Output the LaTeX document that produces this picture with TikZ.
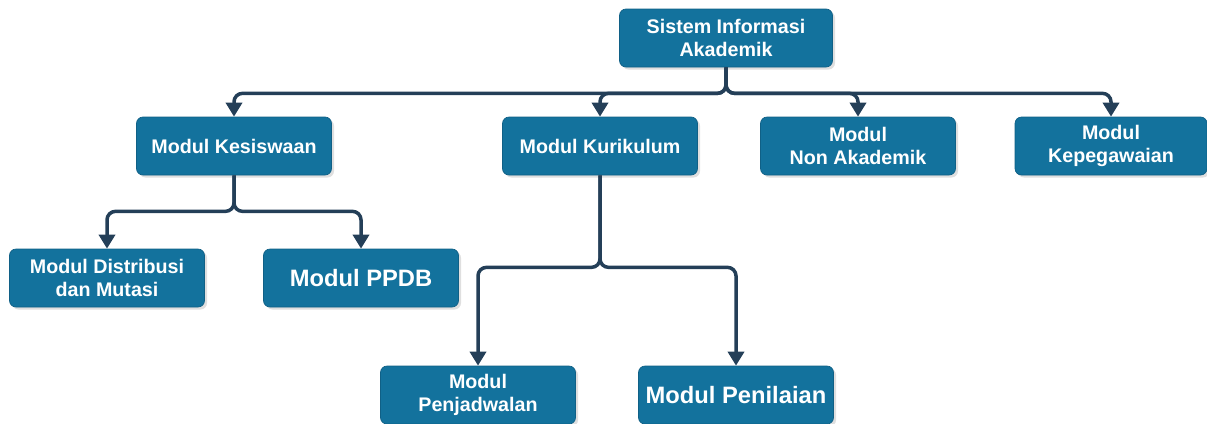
\documentclass[tikz,border=0pt]{standalone}
\usepackage{fontspec}
\setmainfont{Liberation Sans}
\definecolor{siablue} {RGB}{19,114,157}
\definecolor{siadark} {RGB}{16,96,134}
\definecolor{sianavy} {RGB}{36,63,88}
\usetikzlibrary{arrows.meta,positioning,shadows}
\tikzset{
  modul/.style={rectangle,rounded corners=1.3mm,draw=siadark,fill=siablue,
                text=white,minimum height=11.6mm,minimum width=39mm,
                font=\fontsize{11.2}{12.8}\selectfont\bfseries,align=center,
                drop shadow={opacity=0.25,shadow xshift=0.5mm,shadow yshift=-0.5mm}},
  modulbig/.style={modul,font=\fontsize{13.5}{15}\selectfont\bfseries},
  conn/.style={-{Triangle[length=2.8mm,width=3.2mm]},line width=0.7mm,
               draw=sianavy,rounded corners=1.7mm},
}
\begin{document}
\begin{tikzpicture}[x=0.2mm,y=-0.2mm]
    \useasboundingbox (0,0) rectangle (1207,423);
    % root
    \node[modul,minimum width=42.6mm] (sia) at (726,38) {Sistem Informasi\\Akademik};
    % first level
    \node[modul] (kes) at (234,146) {Modul Kesiswaan};
    \node[modul] (kur) at (600,146) {Modul Kurikulum};
    \node[modul] (non) at (858,146) {Modul\\Non Akademik};
    \node[modul,minimum width=38.4mm] (peg) at (1111,146) {Modul\\Kepegawaian};
    % second level
    \node[modul] (dis) at (107,278) {Modul Distribusi\\dan Mutasi};
    \node[modulbig] (ppdb) at (361,278) {Modul PPDB};
    \node[modul] (jad) at (478,395) {Modul\\Penjadwalan};
    \node[modulbig] (nil) at (736,395) {Modul Penilaian};
    % connectors
    \foreach \child in {kes,kur,non,peg}
      \draw[conn] (sia.south) -- ++(0,26) -| (\child.north);
    \foreach \child in {dis,ppdb}
      \draw[conn] (kes.south) -- ++(0,36) -| (\child.north);
    \foreach \child in {jad,nil}
      \draw[conn] (kur.south) -- ++(0,92) -| (\child.north);
  \end{tikzpicture}
\end{document}
